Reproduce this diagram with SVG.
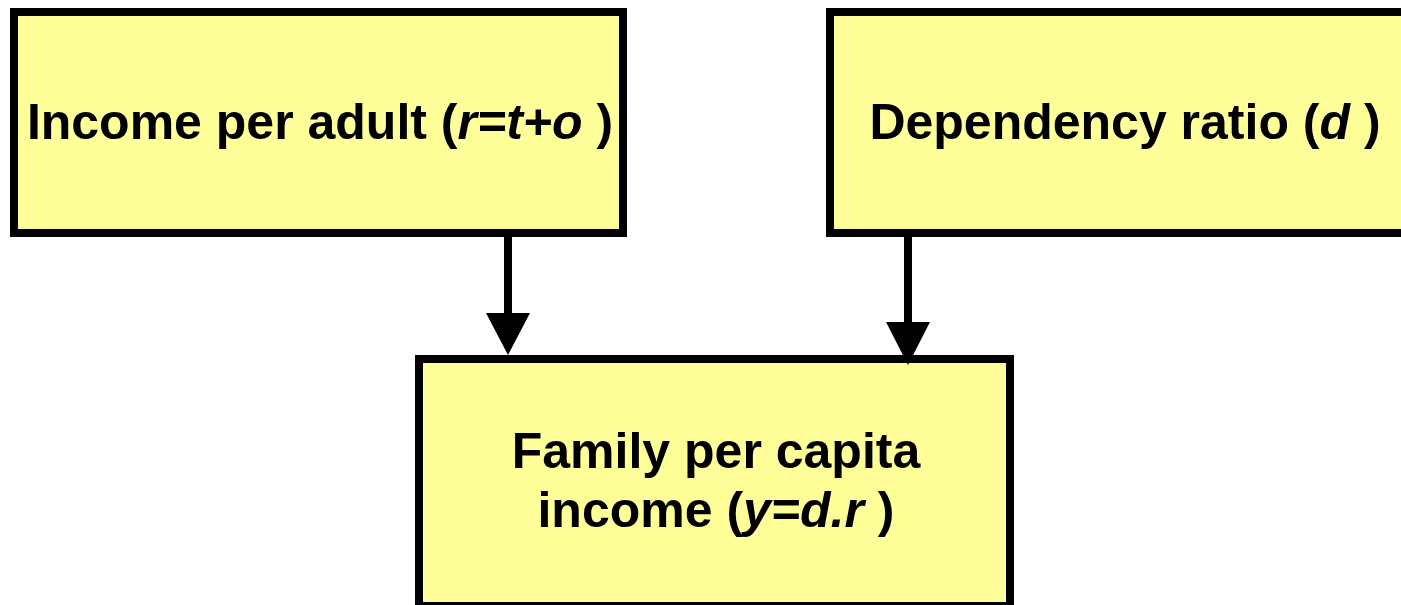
<svg xmlns="http://www.w3.org/2000/svg" width="1401" height="605" viewBox="0 0 1401 605">
<style>
.box{fill:#FFFF99;stroke:#000;stroke-width:8}
.lbl{font-family:"Liberation Sans",Arial,sans-serif;font-weight:bold;font-size:50px;fill:#000;text-anchor:middle}
.it{font-style:italic}
.conn{stroke:#000;stroke-width:8;fill:none}
.head{fill:#000}
</style>
<rect width="1401" height="605" fill="#fff"/>
<g id="node-income-adult">
<rect class="box" x="14" y="12" width="609" height="221"/>
<text class="lbl" x="320" y="139">Income per adult (<tspan class="it">r=t+o</tspan> )</text>
</g>
<g id="node-dependency">
<rect class="box" x="830" y="12" width="600" height="221"/>
<text class="lbl" x="1125" y="139">Dependency ratio (<tspan class="it">d</tspan> )</text>
</g>
<g id="node-family">
<rect class="box" x="419" y="359" width="591" height="247"/>
<text class="lbl" x="716" y="468">Family per capita</text>
<text class="lbl" x="716" y="527">income (<tspan class="it">y=d.r</tspan> )</text>
</g>
<g id="connectors">
<line class="conn" x1="508" y1="237" x2="508" y2="316"/>
<polygon class="head" points="486,313 530,313 508,355"/>
<line class="conn" x1="908" y1="237" x2="908" y2="325"/>
<polygon class="head" points="886,322 930,322 908,365"/>
</g>
</svg>
